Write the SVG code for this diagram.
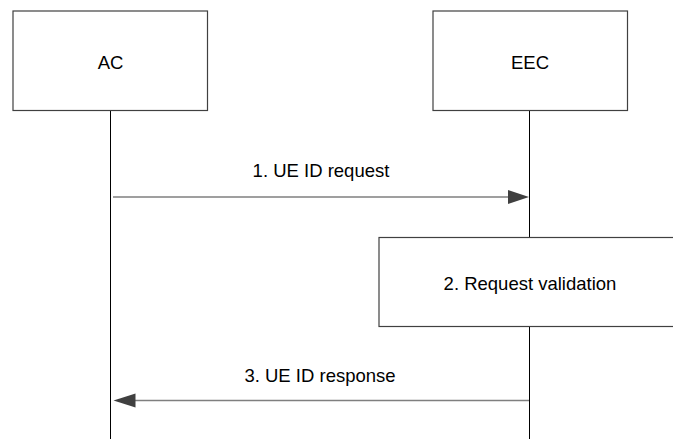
<svg xmlns="http://www.w3.org/2000/svg" width="673" height="439" viewBox="0 0 673 439">
<style>
.box{fill:#fff;stroke:#404040;stroke-width:1.2}
.life{stroke:#000;stroke-width:1}
.msg{stroke:#7f7f7f;stroke-width:1.5;fill:none}
.head{fill:#404040}
text{font-family:"Liberation Sans",Arial,sans-serif;font-size:18.5px;fill:#000;text-anchor:middle}
</style>
<rect width="673" height="439" fill="#fff"/>
<g id="connectors">
<line class="life" x1="110.5" y1="110.5" x2="110.5" y2="439"/>
<line class="life" x1="529.5" y1="110.5" x2="529.5" y2="439"/>
<g id="msg1">
<line class="msg" x1="113" y1="197" x2="510" y2="197"/>
<polygon class="head" points="508,190 529,197 508,204"/>
<text x="321" y="176.5">1. UE ID request</text>
</g>
<g id="msg3">
<line class="msg" x1="529" y1="400.5" x2="133" y2="400.5"/>
<polygon class="head" points="135.5,393.5 113.5,400.5 135.5,407.5"/>
<text x="320" y="381.5">3. UE ID response</text>
</g>
</g>
<g id="AC">
<rect class="box" x="13" y="11" width="194.5" height="99.5"/>
<text x="110.5" y="68.5">AC</text>
</g>
<g id="EEC">
<rect class="box" x="433" y="11" width="194.5" height="99.5"/>
<text x="530" y="68.5">EEC</text>
</g>
<g id="validation">
<rect class="box" x="379" y="237.5" width="300" height="89"/>
<text x="530" y="290">2. Request validation</text>
</g>
</svg>
